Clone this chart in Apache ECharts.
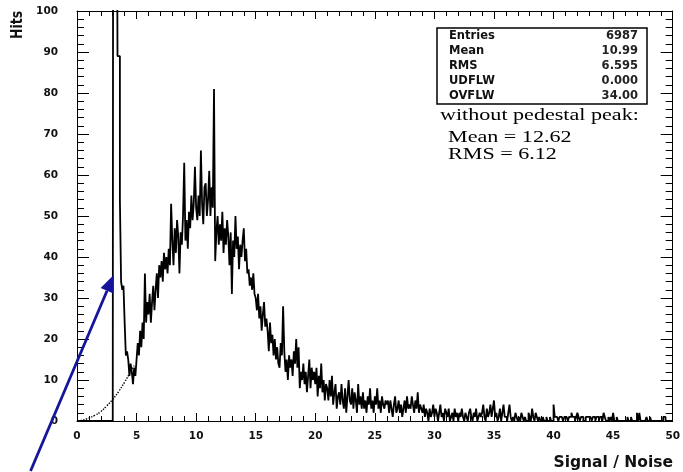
<!DOCTYPE html>
<html><head><meta charset="utf-8">
<script src="https://cdn.jsdelivr.net/npm/echarts@6/dist/echarts.min.js"></script>
<style>html,body{margin:0;padding:0;background:#fff}#c{width:683px;height:472px}</style>
</head><body><div id="c"></div>
<script>
// ---- data (bin width 0.1, bins start at 0) ----
const binStart = 0;
const binWidth = 0.1;
const hits = [
  0,0,0,0,0,0,0,0,0,0,
  0,0,0,0,0,0,0,0,0,0,
  0,0,0,0,0,0,0,0,0,0,
  0,400,520,170,89,89,54,34,32,33,
  24,16,17,15,11,14,12,9,13,11,
  15,19,16,22,18,24,20,36,24,29,
  26,31,24,29,33,27,32,36,30,38,
  35,39,34,41,37,40,36,42,38,53,
  44,38,47,41,49,45,36,46,43,50,
  63,44,49,42,51,47,55,49,53,62,
  52,49,55,50,66,53,48,57,58,50,
  54,61,50,57,52,81,39,46,50,43,
  48,44,51,41,47,43,49,45,38,46,
  31,44,40,50,42,45,37,43,40,44,
  47,39,42,36,37,33,35,32,36,31,
  30,27,31,25,28,22,26,29,23,25,
  22,17,24,19,21,16,20,15,18,14,
  13,19,16,28,17,12,15,10,16,13,
  15,11,17,14,20,13,18,8,12,10,
  14,9,12,7,11,15,8,13,10,12,
  9,13,6,11,8,14,7,10,5,9,
  8,5,10,6,11,4,7,9,3,6,
  7,4,9,5,3,8,2,6,10,5,
  4,8,3,7,5,2,9,4,6,3,
  7,3,5,2,6,4,8,3,5,2,
  6,4,8,3,5,2,6,4,3,5,
  4,5,2,5,3,1,4,6,2,3,
  5,2,4,1,3,5,2,6,3,4,
  3,6,4,2,5,3,7,2,4,3,
  2,4,1,3,2,0,3,1,2,4,
  1,3,2,0,2,4,1,2,0,3,
  2,1,3,0,1,2,0,3,1,2,
  0,2,1,3,1,0,2,1,0,2,
  3,1,0,2,1,3,0,1,2,1,
  2,4,1,0,3,1,2,4,1,3,
  5,1,2,0,1,3,0,2,4,1,
  1,0,2,4,1,0,1,0,2,1,
  0,1,0,2,1,0,1,0,0,2,
  1,0,3,1,0,2,1,0,1,0,
  0,1,0,0,1,0,0,1,0,0,
  4,1,1,1,0,1,1,1,0,1,
  1,1,0,1,1,2,1,1,0,1,
  2,1,0,1,1,0,0,1,1,1,
  1,1,0,1,1,0,1,1,0,1,
  1,0,2,1,0,0,1,0,1,0,
  2,0,0,1,0,0,0,0,0,0,
  0,0,1,0,0,1,0,0,0,0,
  2,0,2,0,0,0,0,0,1,0,
  0,1,0,0,0,0,0,0,0,0,
  0,0,1,1,0,0,0,0,0,0
];
const fitX = [0.3, 1.0, 1.5, 2.0, 2.5, 3.0, 3.5, 4.0, 4.5, 4.8];
const fitY = [0.1, 0.7, 1.4, 2.3, 3.7, 5.3, 7.2, 9.5, 12.0, 13.5];
const xRange = [0, 50];
const yRange = [0, 100];
const xTitle = 'Signal / Noise';
const yTitle = 'Hits';
const statLabels = ['Entries', 'Mean', 'RMS', 'UDFLW', 'OVFLW'];
const statValues = ['6987', '10.99', '6.595', '0.000', '34.00'];
const noteLines = ['without pedestal peak:', 'Mean = 12.62', 'RMS = 6.12'];
const arrowFrom = [-3.9, -12.2];
const arrowTo = [3.08, 35.6];

// ---- build ----
const histData = hits.map((v, i) => [+(binStart + i * binWidth).toFixed(2), v]);
histData.push([xRange[1], hits[hits.length - 1]]);
const fitData = fitX.map((x, i) => [x, fitY[i]]);

const chart = echarts.init(document.getElementById('c'), null, {renderer: 'canvas'});
const lab = {color: '#111', fontFamily: 'DejaVu Sans', fontWeight: 'bold', fontSize: 10.5};
const blk = {color: '#000', width: 1};
function xAx(pos, showLab) {
  return {type: 'value', position: pos, min: xRange[0], max: xRange[1], interval: 5,
    axisLine: {show: true, onZero: false, lineStyle: blk},
    axisTick: {show: true, inside: true, length: 8, lineStyle: blk},
    minorTick: {show: true, splitNumber: 5, length: 5, lineStyle: blk},
    axisLabel: Object.assign({show: showLab, margin: 10}, lab),
    splitLine: {show: false}, minorSplitLine: {show: false}};
}
function yAx(pos, showLab) {
  return {type: 'value', position: pos, min: yRange[0], max: yRange[1], interval: 10,
    axisLine: {show: true, onZero: false, lineStyle: blk},
    axisTick: {show: true, inside: true, length: 12, lineStyle: blk},
    minorTick: {show: true, splitNumber: 5, length: 7, lineStyle: blk},
    axisLabel: Object.assign({show: showLab, margin: 19}, lab),
    splitLine: {show: false}, minorSplitLine: {show: false}};
}
chart.setOption({
  animation: false,
  backgroundColor: '#fff',
  grid: {left: 77, right: 6, top: 11, bottom: 51},
  xAxis: [xAx('bottom', true), xAx('top', false)],
  yAxis: [yAx('left', true), yAx('right', false)],
  series: [
    {type: 'line', data: histData, step: 'end', showSymbol: false, clip: true,
     xAxisIndex: 0, yAxisIndex: 0,
     lineStyle: {color: '#000', width: 1.8}, z: 3},
    {type: 'line', data: fitData, smooth: true, showSymbol: false, clip: true,
     xAxisIndex: 0, yAxisIndex: 0,
     lineStyle: {color: '#000', width: 1.4, type: 'dotted'}, z: 2}
  ]
});

const p0 = chart.convertToPixel({xAxisIndex: 0, yAxisIndex: 0}, arrowFrom);
const p1 = chart.convertToPixel({xAxisIndex: 0, yAxisIndex: 0}, arrowTo);
const dx = p1[0] - p0[0], dy = p1[1] - p0[1];
const L = Math.sqrt(dx * dx + dy * dy), ux = dx / L, uy = dy / L;
const headLen = 17, headHalf = 7;
const bx = p1[0] - ux * headLen, by = p1[1] - uy * headLen;
const arrowColor = '#15159c';

const graphics = [];
graphics.push({type: 'text', x: 18, y: 25, rotation: Math.PI / 2, scaleY: 1.25,
  style: {text: yTitle, font: 'bold 12.5px "DejaVu Sans"', fill: '#111', align: 'center', verticalAlign: 'middle'}});
graphics.push({type: 'text', x: 673, y: 463,
  style: {text: xTitle, font: 'bold 15.5px "DejaVu Sans"', fill: '#111', align: 'right', verticalAlign: 'middle'}});
graphics.push({type: 'rect', shape: {x: 437, y: 28, width: 210, height: 76},
  style: {fill: '#fff', stroke: '#000', lineWidth: 1.5}, z: 10});
statLabels.forEach((t, i) => {
  graphics.push({type: 'text', x: 449, y: 36 + i * 15, z: 11,
    style: {text: t, font: 'bold 11.5px "DejaVu Sans"', fill: '#111', align: 'left', verticalAlign: 'middle'}});
  graphics.push({type: 'text', x: 638, y: 36 + i * 15, z: 11,
    style: {text: statValues[i], font: 'bold 11.5px "DejaVu Sans"', fill: '#222', align: 'right', verticalAlign: 'middle'}});
});
const noteX = [440, 448, 448], noteY = [116, 137.5, 155];
noteLines.forEach((t, i) => {
  graphics.push({type: 'text', x: noteX[i], y: noteY[i], scaleX: 1.3, z: 11,
    style: {text: t, font: '17px "Liberation Serif"', fill: '#000', align: 'left', verticalAlign: 'middle'}});
});
graphics.push({type: 'line', shape: {x1: p0[0], y1: p0[1], x2: bx, y2: by},
  style: {stroke: arrowColor, lineWidth: 2.8}, z: 20});
graphics.push({type: 'polygon', shape: {points: [
    [p1[0], p1[1]],
    [bx - uy * headHalf, by + ux * headHalf],
    [bx + uy * headHalf, by - ux * headHalf]]},
  style: {fill: arrowColor}, z: 20});
chart.setOption({graphic: graphics});
</script></body></html>
